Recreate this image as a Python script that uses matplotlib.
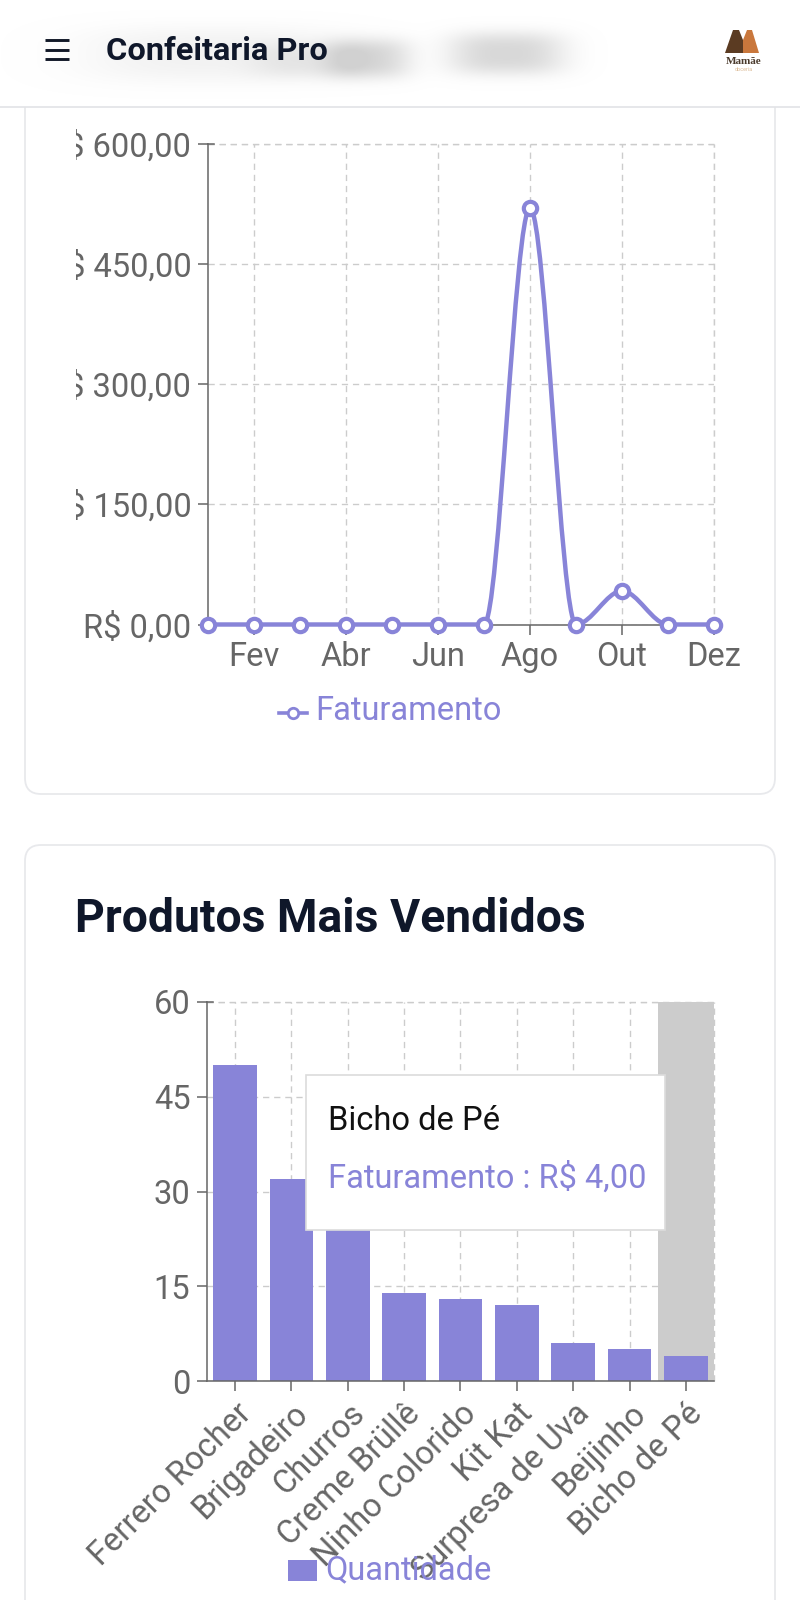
import numpy as np
import matplotlib
matplotlib.use('Agg')
import matplotlib.pyplot as plt
from matplotlib.path import Path
from matplotlib.patches import PathPatch, FancyBboxPatch, Rectangle, Polygon
from matplotlib.transforms import Bbox

plt.rcParams['font.family'] = ['Roboto', 'DejaVu Sans']

# dados
meses = ['Jan', 'Fev', 'Mar', 'Abr', 'Mai', 'Jun', 'Jul', 'Ago', 'Set', 'Out', 'Nov', 'Dez']
faturamento = [0, 0, 0, 0, 0, 0, 0, 520, 0, 42, 0, 0]
faturamento_ticks = [0, 150, 300, 450, 600]
faturamento_labels = ['R$ 0,00', 'R$ 150,00', 'R$ 300,00', 'R$ 450,00', 'R$ 600,00']

produtos = ['Ferrero Rocher', 'Brigadeiro', 'Churros', 'Creme Brüllê', 'Ninho Colorido',
            'Kit Kat', 'Surpresa de Uva', 'Beijinho', 'Bicho de Pé']
quantidade = [50, 32, 25, 14, 13, 12, 6, 5, 4]
quantidade_ticks = [0, 15, 30, 45, 60]

W, H = 800, 1600
ROXO = '#8884d8'
CINZA = '#666666'
GRADE = '#cccccc'
ESCURO = '#0f172a'
TAM = 23.5
TRACO = (0, (4.5, 3.5))

fig = plt.figure(figsize=(8, 16), dpi=100, facecolor='white')


def eixo_px(x0, y0, x1, y1, **kw):
    # eixo posicionado em pixels (origem no topo)
    return fig.add_axes([x0 / W, 1 - y1 / H, (x1 - x0) / W, (y1 - y0) / H], **kw)


def curva_monotona(x, y):
    # curva monotone (como no recharts) a partir dos valores
    x = np.asarray(x, float)
    y = np.asarray(y, float)
    h = np.diff(x)
    s = np.diff(y) / h
    t = np.zeros(len(x))
    for i in range(1, len(x) - 1):
        if s[i - 1] * s[i] > 0:
            p = (s[i - 1] * h[i] + s[i] * h[i - 1]) / (h[i - 1] + h[i])
            t[i] = np.sign(s[i]) * min(abs(s[i - 1]), abs(s[i]), 0.5 * abs(p)) * 2
    verts = [(x[0], y[0])]
    codes = [Path.MOVETO]
    for i in range(len(x) - 1):
        d = h[i] / 3
        verts += [(x[i] + d, y[i] + d * t[i]), (x[i + 1] - d, y[i + 1] - d * t[i + 1]), (x[i + 1], y[i + 1])]
        codes += [Path.CURVE4] * 3
    return Path(verts, codes)


# fundo da pagina: cartoes e cabecalho
bg = eixo_px(0, 0, W, H, zorder=0)
bg.set_xlim(0, W)
bg.set_ylim(H, 0)
bg.axis('off')

for y0, y1 in [(60, 794), (845, 1700)]:
    bg.add_patch(FancyBboxPatch((25, y0), 750, y1 - y0, boxstyle='round,pad=0,rounding_size=16',
                                fc='white', ec='#e8e9ec', lw=1.3))

bg.add_patch(Rectangle((0, 0), W, 107, fc='white', ec='none', zorder=2))
bg.plot([0, W], [107, 107], color='#e2e3e6', lw=1.2, zorder=3)

# borrao do cabecalho
yy, xx = np.mgrid[0:107, 0:W]
borrao = np.zeros(xx.shape)
for cx, cy, sx, sy, a in [(215, 54, 105, 22, 0.28), (368, 58, 34, 16, 0.80), (506, 53, 46, 17, 0.85),
                          (310, 60, 45, 14, 0.35)]:
    borrao += a * np.exp(-(np.abs(xx - cx) / sx) ** 3 / 2 - (np.abs(yy - cy) / sy) ** 3 / 2)
borrao = np.clip(borrao, 0, 1)
rgba = np.zeros(xx.shape + (4,))
rgba[..., :3] = 0.82
rgba[..., 3] = borrao
bg.imshow(rgba, extent=(0, W, 107, 0), zorder=2.5, aspect='auto', interpolation='bilinear')
bg.set_xlim(0, W)
bg.set_ylim(H, 0)

for y in [40, 49.5, 59]:
    bg.plot([45, 69], [y, y], color='#111827', lw=2.1, solid_capstyle='butt', zorder=4)
bg.text(106, 51, 'Confeitaria Pro', fontsize=23.4, fontweight='bold', color=ESCURO, va='center', zorder=4)

# logo
bg.add_patch(Polygon([[725, 53], [733, 30], [739, 30], [743, 40], [743, 53]], fc='#5b3b22', ec='none', zorder=4))
bg.add_patch(Polygon([[743, 53], [743, 40], [747, 30], [752, 30], [759, 53]], fc='#c9773c', ec='none', zorder=4))
bg.text(744, 62, 'Mamãe', fontsize=8, fontweight='bold', family='Liberation Serif', color='#4a3a2c',
        ha='center', va='center', zorder=4)
bg.text(744, 69.5, 'doceria', fontsize=4, color='#dcbc98', ha='center', va='center', zorder=4)

bg.text(75, 919, 'Produtos Mais Vendidos', fontsize=33.3, fontweight='bold', color=ESCURO, va='center')

# grafico de linha
ax1 = eixo_px(208, 144, 714, 624.5, zorder=2)
ax1.patch.set_alpha(0)
ax1.set_xlim(0, len(meses) - 1)
ax1.set_ylim(0, 600)
ax1.set_xticks(range(1, len(meses), 2))
ax1.set_xticklabels(meses[1::2])
ax1.set_yticks(faturamento_ticks)
ax1.set_yticklabels(faturamento_labels)
x_meses = np.arange(len(meses))
ax1.add_patch(PathPatch(curva_monotona(x_meses, faturamento), fc='none', ec=ROXO, lw=3.2, clip_on=False, zorder=3))
ax1.plot(x_meses, faturamento, ls='none', marker='o', ms=9.6, mfc='white', mec=ROXO, mew=3,
         clip_on=False, zorder=4)

# grafico de barras
ax2 = eixo_px(207, 1002, 714, 1381, zorder=2)
ax2.patch.set_alpha(0)
ax2.set_xlim(-0.5, len(produtos) - 0.5)
ax2.set_ylim(0, 60)
ax2.set_xticks(range(len(produtos)))
ax2.set_xticklabels(produtos, rotation=45, ha='right', va='top', rotation_mode='anchor')
ax2.set_yticks(quantidade_ticks)
ax2.axvspan(len(produtos) - 1.5, len(produtos) - 0.5, color=GRADE, lw=0, zorder=1.5)
ax2.bar(range(len(produtos)), quantidade, width=0.78, color=ROXO, zorder=2)

for ax in (ax1, ax2):
    ax.grid(True, color=GRADE, ls=TRACO, lw=1)
    ax.set_axisbelow(True)
    for lado in ['top', 'right']:
        ax.spines[lado].set_visible(False)
    for lado in ['left', 'bottom']:
        ax.spines[lado].set_color(CINZA)
        ax.spines[lado].set_linewidth(1.1)
    ax.tick_params(axis='both', colors=CINZA, labelcolor=CINZA, labelsize=TAM, length=7, width=1.1, pad=5)
    ax.plot([0, 1], [1, 1], transform=ax.transAxes, color=GRADE, ls=TRACO, lw=1, clip_on=False, zorder=1)
    ax.plot([1, 1], [0, 1], transform=ax.transAxes, color=GRADE, ls=TRACO, lw=1, clip_on=False, zorder=1)
    ax.plot([0, 0.012], [1, 1], transform=ax.transAxes, color=CINZA, lw=1.1, clip_on=False, zorder=1)

# o rotulo do eixo y e cortado na esquerda do svg
corte = Bbox([[76, 0], [W, H]])
for lab in ax1.get_yticklabels():
    lab.set_clip_box(corte)
    lab.set_clip_on(True)

# legendas e tooltip por cima
top = eixo_px(0, 0, W, H, zorder=5)
top.patch.set_alpha(0)
top.set_xlim(0, W)
top.set_ylim(H, 0)
top.axis('off')

top.plot([279, 307], [713, 713], color=ROXO, lw=2.6)
top.plot([293], [713], marker='o', ms=7.5, mfc='white', mec=ROXO, mew=2)
top.text(315, 711, 'Faturamento', fontsize=TAM, color=ROXO, va='center')

top.add_patch(Rectangle((288, 1560), 29, 21, fc=ROXO, ec='none'))
top.text(325, 1570, 'Quantidade', fontsize=TAM, color=ROXO, va='center')

top.add_patch(Rectangle((306, 1075), 359, 155, fc='white', ec='#dcdcdc', lw=1.2))
top.text(328, 1121, 'Bicho de Pé', fontsize=TAM, color='#111111', va='center')
top.text(328, 1178, 'Faturamento : R$ 4,00', fontsize=TAM, color=ROXO, va='center')

fig.savefig('out.png', dpi=100)
